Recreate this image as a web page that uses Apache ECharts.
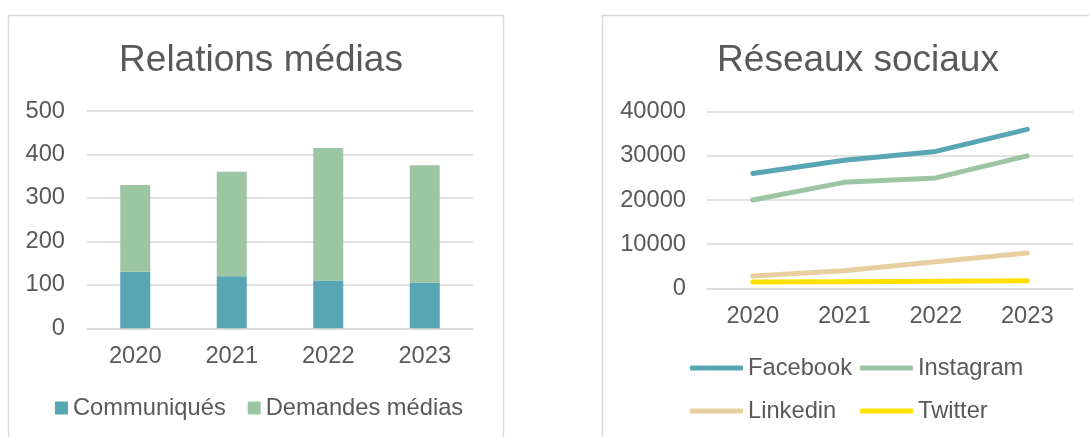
<!DOCTYPE html>
<html>
<head>
<meta charset="utf-8">
<script src="https://cdn.jsdelivr.net/npm/echarts@6/dist/echarts.min.js"></script>
<style>
html,body{margin:0;padding:0;background:#fff;}
#c{width:1089px;height:437px;}
</style>
</head>
<body>
<div id="c"></div>
<script>
// Data
const years = ['2020', '2021', '2022', '2023'];
const communiques = [130, 120, 110, 105];
const demandesMedias = [200, 240, 305, 270];
const facebook = [26000, 29000, 31000, 36000];
const instagram = [20000, 24000, 25000, 30000];
const linkedin = [2800, 4000, 6000, 8000];
const twitter = [1400, 1500, 1600, 1700];
const leftTitle = 'Relations médias';
const rightTitle = 'Réseaux sociaux';

const FONT = '"Liberation Sans", Arial, sans-serif';
const TXT = '#595959';
const GRID = '#d9d9d9';
const C_TEAL = '#58A6B3';
const C_GREEN = '#9CC5A1';
const C_BEIGE = '#E8CFA0';
const C_YELLOW = '#FFE100';
const FS = 23.7;

const chart = echarts.init(document.getElementById('c'), null, {renderer: 'canvas'});

const legendText = {color: TXT, fontSize: FS, fontFamily: FONT};
const plain = v => String(v);

const option = {
  animation: false,
  textStyle: {fontFamily: FONT},
  graphic: [
    {type: 'rect', shape: {x: 8.5, y: 15.5, width: 495, height: 440}, style: {fill: 'none', stroke: GRID, lineWidth: 1.5}, silent: true, z: -1},
    {type: 'rect', shape: {x: 602.5, y: 15.5, width: 600, height: 440}, style: {fill: 'none', stroke: GRID, lineWidth: 1.5}, silent: true, z: -1}
  ],
  title: [
    {text: leftTitle, left: 256, textAlign: 'center', top: 37, textStyle: {color: TXT, fontSize: 37, fontWeight: 'normal', fontFamily: FONT}},
    {text: rightTitle, left: 853, textAlign: 'center', top: 37, textStyle: {color: TXT, fontSize: 37, fontWeight: 'normal', fontFamily: FONT}}
  ],
  legend: [
    {data: ['Communiqués', 'Demandes médias'], left: 55, top: 396, itemWidth: 13, itemHeight: 13, itemGap: 22, icon: 'rect', textStyle: legendText, padding: 0},
    {data: ['Facebook'], left: 690, top: 356, itemWidth: 53, itemHeight: 5, icon: 'roundRect', textStyle: legendText, padding: 0},
    {data: ['Instagram'], left: 860, top: 356, itemWidth: 53, itemHeight: 5, icon: 'roundRect', textStyle: legendText, padding: 0},
    {data: ['Linkedin'], left: 690, top: 399, itemWidth: 53, itemHeight: 5, icon: 'roundRect', textStyle: legendText, padding: 0},
    {data: ['Twitter'], left: 860, top: 399, itemWidth: 53, itemHeight: 5, icon: 'roundRect', textStyle: legendText, padding: 0}
  ],
  grid: [
    {left: 87, right: 1089 - 473, top: 111, height: 217.3, containLabel: false},
    {left: 707, right: 1089 - 1073, top: 111.7, height: 176.6, containLabel: false}
  ],
  xAxis: [
    {type: 'category', gridIndex: 0, data: years, axisTick: {show: false},
     axisLine: {lineStyle: {color: GRID, width: 1.5}},
     axisLabel: {color: TXT, fontSize: FS, fontFamily: FONT, margin: 16}},
    {type: 'category', gridIndex: 1, data: years, axisTick: {show: false},
     axisLine: {lineStyle: {color: GRID, width: 1.5}},
     axisLabel: {color: TXT, fontSize: FS, fontFamily: FONT, margin: 16}}
  ],
  yAxis: [
    {type: 'value', gridIndex: 0, min: 0, max: 500, interval: 100,
     axisLine: {show: false}, axisTick: {show: false},
     splitLine: {lineStyle: {color: GRID, width: 1.5}},
     axisLabel: {color: TXT, fontSize: FS, fontFamily: FONT, margin: 22, formatter: plain}},
    {type: 'value', gridIndex: 1, min: 0, max: 40000, interval: 10000,
     axisLine: {show: false}, axisTick: {show: false},
     splitLine: {lineStyle: {color: GRID, width: 1.5}},
     axisLabel: {color: TXT, fontSize: FS, fontFamily: FONT, margin: 21, formatter: plain}}
  ],
  series: [
    {name: 'Communiqués', type: 'bar', stack: 'a', xAxisIndex: 0, yAxisIndex: 0, data: communiques, barWidth: 30, itemStyle: {color: C_TEAL}},
    {name: 'Demandes médias', type: 'bar', stack: 'a', xAxisIndex: 0, yAxisIndex: 0, data: demandesMedias, barWidth: 30, itemStyle: {color: C_GREEN}},
    {name: 'Facebook', type: 'line', xAxisIndex: 1, yAxisIndex: 1, data: facebook, symbol: 'none', color: C_TEAL, lineStyle: {width: 5, color: C_TEAL, cap: 'round', join: 'round'}},
    {name: 'Instagram', type: 'line', xAxisIndex: 1, yAxisIndex: 1, data: instagram, symbol: 'none', color: C_GREEN, lineStyle: {width: 5, color: C_GREEN, cap: 'round', join: 'round'}},
    {name: 'Linkedin', type: 'line', xAxisIndex: 1, yAxisIndex: 1, data: linkedin, symbol: 'none', color: C_BEIGE, lineStyle: {width: 5, color: C_BEIGE, cap: 'round', join: 'round'}},
    {name: 'Twitter', type: 'line', xAxisIndex: 1, yAxisIndex: 1, data: twitter, symbol: 'none', color: C_YELLOW, lineStyle: {width: 5, color: C_YELLOW, cap: 'round', join: 'round'}}
  ]
};
chart.setOption(option);
</script>
</body>
</html>
